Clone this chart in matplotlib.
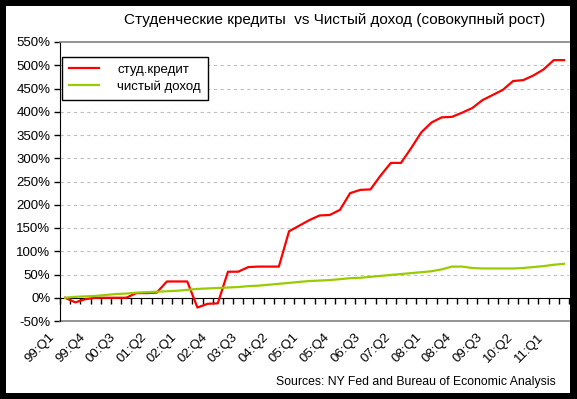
"""Student loans vs net income, cumulative growth since 99:Q1."""

import matplotlib.pyplot as plt
import matplotlib.transforms as mtransforms
import numpy as np
from matplotlib.patches import Rectangle
from matplotlib.ticker import FixedLocator, FuncFormatter

QUARTERS = [
    f"{year % 100:02d}:Q{q}" for year in range(1999, 2012) for q in range(1, 5)
][:50]
LABEL_STEP = 3

STUDENT_LOANS = [
    0, -10, -3, 0, 0, 0, 0, 10, 10, 11,
    35, 35, 35, -21, -13, -12, 56, 56, 66, 67,
    67, 67, 143, 155, 167, 177, 178, 189, 225, 232,
    233, 263, 290, 290, 322, 356, 377, 388, 389, 398,
    408, 425, 436, 447, 466, 468, 478, 491, 511, 511,
]
NET_INCOME = [
    0, 2, 3, 4, 6, 8, 9, 11, 12, 13,
    14, 15, 17, 19, 20, 21, 22, 23, 25, 26,
    28, 30, 32, 34, 36, 37, 38, 40, 42, 43,
    45, 47, 49, 51, 53, 55, 57, 61, 67, 67,
    64, 63, 63, 63, 63, 64, 66, 68, 71, 73,
]
Y_TICKS = list(range(-50, 551, 50))

TITLE = "Студенческие кредиты  vs Чистый доход (совокупный рост)"
SOURCE = "Sources: NY Fed and Bureau of Economic Analysis"

W, H = 577, 399


def main() -> None:
    plt.rcParams.update({"font.family": ["Liberation Sans", "DejaVu Sans"],
                         "font.size": 9})
    fig = plt.figure(figsize=(W / 100, H / 100), dpi=100, facecolor="black")
    fig.patches.append(
        Rectangle((6 / W, 6 / H), 564 / W, 387 / H, transform=fig.transFigure,
                  facecolor="white", edgecolor="none", zorder=-1)
    )

    ax = fig.add_axes((60 / W, (H - 321) / H, 509 / W, 279 / H))
    x = np.arange(len(QUARTERS))

    ax.plot(x, STUDENT_LOANS, color="#ff0000", linewidth=1.6,
            label="студ.кредит", zorder=3)
    ax.plot(x, NET_INCOME, color="#99cc00", linewidth=1.6,
            label="чистый доход", zorder=3)

    ax.set_xlim(-0.5, len(QUARTERS) - 0.5)
    ax.set_ylim(Y_TICKS[0], Y_TICKS[-1])
    ax.set_yticks(Y_TICKS)
    ax.yaxis.set_major_formatter(FuncFormatter(lambda v, _: f"{v:.0f}%"))
    ax.tick_params(axis="y", direction="out", length=4, width=1,
                   color="black", pad=3, labelsize=9.5)

    for value in Y_TICKS[2:-1]:
        ax.axhline(value, color="#c0c0c0", linewidth=0.8,
                   linestyle=(0, (3, 3)), zorder=1)
    ax.axhline(Y_TICKS[0], color="#808080", linewidth=1.2, clip_on=False)

    ax.spines["right"].set_visible(False)
    ax.spines["top"].set_color("#808080")
    ax.spines["top"].set_linewidth(1.2)
    ax.spines["left"].set_color("black")
    ax.spines["bottom"].set_position(("data", 0))
    ax.spines["bottom"].set_color("black")
    ax.spines["bottom"].set_zorder(2)

    ax.xaxis.set_minor_locator(FixedLocator(np.arange(-0.5, len(QUARTERS), 1)))
    ax.xaxis.set_major_locator(FixedLocator(x[::LABEL_STEP]))
    ax.set_xticklabels(QUARTERS[::LABEL_STEP])
    ax.tick_params(axis="x", which="minor", direction="out", length=4,
                   width=1, color="black")
    ax.tick_params(axis="x", which="major", length=0, pad=24, labelsize=9.5)
    shift = mtransforms.ScaledTranslation(-8 / 100, 0, fig.dpi_scale_trans)
    for label in ax.get_xticklabels():
        label.set_rotation(45)
        label.set_ha("right")
        label.set_va("top")
        label.set_transform(label.get_transform() + shift)

    legend = ax.legend(loc="upper left", bbox_to_anchor=(62 / W, 1 - 57 / H),
                       bbox_transform=fig.transFigure, borderaxespad=0,
                       fancybox=False, edgecolor="black", framealpha=1,
                       fontsize=9.5, handlelength=2.3, handletextpad=1.4,
                       labelspacing=0.35, borderpad=0.5)
    legend.get_frame().set_linewidth(1)

    fig.text(335 / W, 1 - 20 / H, TITLE, ha="center", va="center",
             fontsize=11)
    fig.text(556 / W, 1 - 382 / H, SOURCE, ha="right", va="center",
             fontsize=8.8)

    fig.savefig("out.png", dpi=100, facecolor="black")


if __name__ == "__main__":
    main()
